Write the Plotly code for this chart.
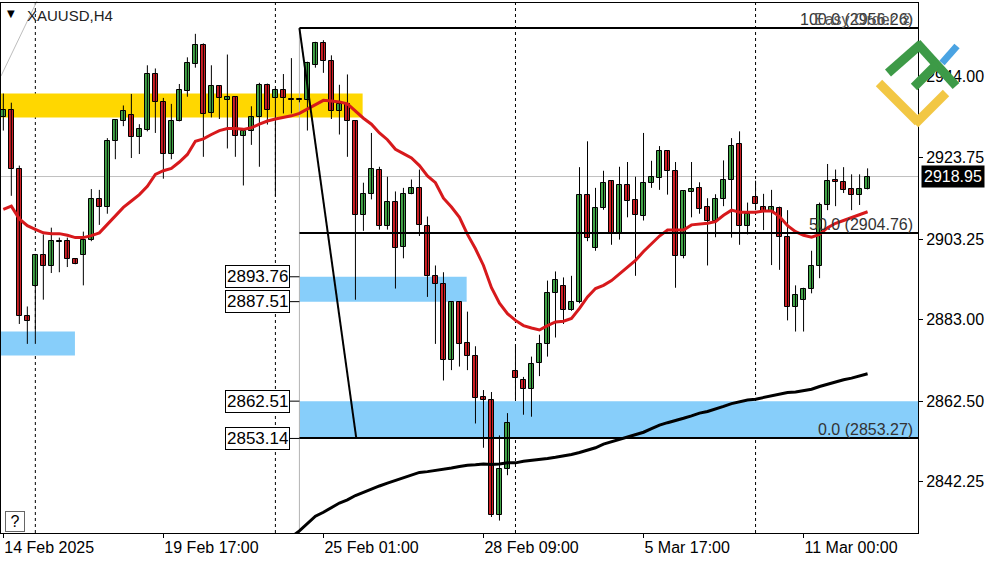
import plotly.graph_objects as go

# ---------------- data ----------------
opens = [2934.0, 2935.7, 2920.8, 2883.9, 2891.5, 2899.2, 2896.4, 2902.5, 2902.7, 2898.2,
         2899.2, 2902.9, 2913.2, 2911.2, 2927.9, 2933.0, 2934.5, 2928.9, 2930.7, 2944.6,
         2937.7, 2924.7, 2932.9, 2940.5, 2947.2, 2952.1, 2935.0, 2941.6, 2938.1, 2939.0,
         2929.2, 2930.5, 2933.9, 2941.9, 2938.7, 2940.7, 2938.4, 2938.4, 2938.3, 2946.9,
         2952.6, 2948.0, 2935.5, 2937.2, 2932.8, 2909.2, 2914.6, 2920.7, 2906.4, 2912.6,
         2901.3, 2914.6, 2916.1, 2906.6, 2893.9, 2891.9, 2872.9, 2887.3, 2877.2, 2873.8,
         2863.5, 2862.7, 2833.8, 2845.4, 2870.0, 2867.9, 2865.6, 2872.0, 2876.9, 2889.7,
         2891.5, 2885.4, 2887.3, 2914.4, 2901.1, 2911.1, 2917.9, 2904.4, 2916.9, 2913.0,
         2909.0, 2917.2, 2918.7, 2925.3, 2920.4, 2899.1, 2915.0, 2916.1, 2911.3, 2907.9,
         2913.2, 2918.1, 2927.0, 2906.6, 2913.7, 2911.4, 2910.1, 2911.0, 2903.8, 2886.1,
         2888.0, 2890.6, 2896.4, 2911.7, 2918.1, 2917.6, 2915.7, 2914.4, 2915.8]
highs = [2939.8, 2937.5, 2921.7, 2886.3, 2899.5, 2904.4, 2906.1, 2903.6, 2903.6, 2898.3,
         2905.1, 2915.8, 2915.6, 2928.6, 2933.4, 2936.8, 2939.7, 2932.1, 2946.9, 2946.1,
         2938.7, 2937.2, 2942.2, 2948.9, 2954.8, 2952.4, 2946.9, 2941.8, 2949.6, 2939.1,
         2930.6, 2936.6, 2942.5, 2942.3, 2941.1, 2944.7, 2948.7, 2938.7, 2947.8, 2952.8,
         2953.2, 2949.4, 2942.0, 2944.6, 2932.9, 2917.4, 2929.9, 2921.4, 2918.9, 2915.2,
         2916.1, 2918.2, 2920.7, 2908.9, 2896.6, 2894.9, 2887.4, 2887.5, 2885.0, 2876.3,
         2865.3, 2864.8, 2853.9, 2859.5, 2876.8, 2868.6, 2873.7, 2879.2, 2892.8, 2895.1,
         2893.6, 2894.0, 2921.3, 2927.8, 2916.1, 2920.4, 2918.0, 2921.4, 2922.6, 2918.9,
         2929.9, 2922.9, 2926.6, 2925.4, 2922.6, 2915.3, 2922.6, 2917.5, 2913.5, 2914.5,
         2923.0, 2928.6, 2930.3, 2912.4, 2917.9, 2914.6, 2915.6, 2911.4, 2910.5, 2891.6,
         2891.0, 2900.3, 2912.4, 2922.1, 2920.7, 2921.3, 2919.5, 2919.5, 2921.0]
lows = [2930.5, 2914.1, 2881.9, 2876.9, 2876.9, 2888.0, 2894.7, 2894.9, 2896.2, 2896.9,
        2891.6, 2902.7, 2906.8, 2909.6, 2923.3, 2931.6, 2923.6, 2924.6, 2930.3, 2929.9,
        2918.4, 2923.3, 2932.8, 2939.0, 2946.3, 2923.9, 2933.8, 2933.4, 2926.0, 2923.9,
        2916.7, 2926.9, 2921.4, 2932.0, 2914.0, 2934.8, 2934.8, 2937.6, 2930.5, 2946.3,
        2945.0, 2933.4, 2929.5, 2923.9, 2888.0, 2905.3, 2913.2, 2905.6, 2905.6, 2890.8,
        2898.4, 2914.5, 2904.0, 2888.7, 2876.9, 2867.7, 2870.3, 2871.2, 2870.3, 2856.9,
        2850.8, 2833.4, 2832.5, 2843.9, 2863.0, 2859.1, 2858.6, 2868.8, 2873.7, 2878.5,
        2881.9, 2885.2, 2887.1, 2902.7, 2900.3, 2910.6, 2901.8, 2903.1, 2908.7, 2894.0,
        2907.9, 2916.1, 2915.6, 2914.4, 2891.0, 2898.4, 2908.7, 2909.6, 2896.6, 2903.7,
        2911.5, 2903.6, 2901.8, 2904.4, 2910.5, 2905.5, 2896.7, 2895.5, 2882.8, 2880.0,
        2880.0, 2889.6, 2893.4, 2910.5, 2911.5, 2914.8, 2910.5, 2911.8, 2915.7]
closes = [2935.7, 2920.8, 2883.9, 2882.6, 2899.2, 2896.4, 2902.7, 2902.7, 2898.2, 2897.0,
          2902.9, 2913.4, 2911.2, 2927.8, 2933.1, 2935.3, 2928.9, 2930.9, 2944.6, 2937.7,
          2924.7, 2932.9, 2940.7, 2947.6, 2952.1, 2934.7, 2941.8, 2938.7, 2939.0, 2929.2,
          2930.5, 2933.8, 2941.9, 2935.6, 2940.7, 2938.6, 2938.2, 2938.1, 2947.4, 2952.4,
          2948.0, 2935.5, 2937.2, 2932.8, 2909.4, 2914.6, 2920.8, 2906.4, 2912.6, 2901.1,
          2914.6, 2916.1, 2906.8, 2894.0, 2891.9, 2872.9, 2887.3, 2876.8, 2873.8, 2863.4,
          2862.7, 2833.8, 2845.4, 2856.9, 2868.3, 2865.5, 2871.8, 2876.8, 2889.7, 2893.0,
          2885.4, 2887.3, 2914.4, 2903.4, 2911.1, 2917.4, 2904.4, 2916.9, 2912.9, 2909.2,
          2917.2, 2918.9, 2925.3, 2920.4, 2899.1, 2915.2, 2915.9, 2910.9, 2907.9, 2913.2,
          2918.1, 2926.7, 2906.6, 2909.6, 2912.0, 2910.1, 2911.2, 2903.7, 2886.1, 2889.3,
          2890.6, 2896.5, 2911.7, 2917.9, 2917.6, 2915.5, 2914.4, 2915.9, 2918.95]

ma_red = [2910.7, 2911.5, 2908.3, 2906.6, 2905.7, 2904.8, 2904.6, 2904.6, 2904.2, 2903.6,
          2903.6, 2904.1, 2904.8, 2907.0, 2909.2, 2911.2, 2912.8, 2914.4, 2916.5, 2919.5,
          2920.4, 2921.0, 2922.6, 2924.5, 2927.8, 2928.4, 2929.5, 2930.5, 2931.0, 2931.0,
          2930.8, 2931.2, 2932.1, 2932.9, 2933.4, 2933.8, 2934.2, 2934.8, 2935.9, 2937.2,
          2938.1, 2937.9, 2937.7, 2937.2, 2935.3, 2933.6, 2932.1, 2929.9, 2928.2, 2925.8,
          2924.7, 2923.6, 2921.7, 2919.1, 2917.4, 2913.5, 2911.3, 2908.7, 2904.4, 2900.8,
          2896.6, 2891.0, 2887.1, 2884.5, 2882.8, 2881.5, 2880.9, 2880.4, 2881.5, 2882.4,
          2882.6, 2883.3, 2885.8, 2888.7, 2890.8, 2891.6, 2892.8, 2894.5, 2896.2, 2897.9,
          2900.1, 2902.0, 2904.0, 2905.5, 2905.5, 2905.5, 2906.8, 2907.0, 2907.2, 2907.6,
          2909.2, 2910.5, 2910.0, 2910.0, 2910.0, 2910.3, 2910.3, 2908.9, 2906.6, 2905.1,
          2904.2, 2903.7, 2904.4, 2906.1, 2907.2, 2907.9, 2908.7, 2909.4, 2910.1]

ma_black_first_bar = 35
ma_black = [2826.5, 2828.4, 2829.9, 2831.7, 2833.6, 2834.6, 2835.7, 2836.9, 2837.7, 2838.8,
            2839.6, 2840.5, 2841.2, 2841.9, 2842.6, 2843.2, 2843.9, 2844.6, 2844.8, 2845.1,
            2845.3, 2845.7, 2846.1, 2846.4, 2846.5, 2846.7, 2846.6, 2846.7, 2847.0, 2847.0,
            2847.4, 2847.6, 2847.8, 2848.1, 2848.4, 2848.7, 2849.1, 2849.6, 2850.2, 2850.8,
            2851.7, 2852.3, 2853.0, 2853.6, 2854.1, 2854.7, 2855.6, 2856.5, 2857.1, 2857.6,
            2858.2, 2858.8, 2859.5, 2859.9, 2860.5, 2861.2, 2861.9, 2862.3, 2862.8, 2863.0,
            2863.4, 2863.8, 2864.2, 2864.7, 2864.8, 2865.1, 2865.5, 2866.2, 2866.8, 2867.4,
            2867.9, 2868.3, 2868.8, 2869.4]

tick_bars = [0, 20, 40, 60, 80, 100]
tick_labels = ["14 Feb 2025", "19 Feb 17:00", "25 Feb 01:00", "28 Feb 09:00",
               "5 Mar 17:00", "11 Mar 00:00"]
price_ticks = [2944.00, 2923.75, 2903.25, 2883.00, 2862.50, 2842.25]
week_separators = [4, 34, 64, 94]
last_price = 2918.95

fib_start_bar = 37
fib_end_bar = 44.1
fib_levels = [100.0, 50.0, 0.0]
fib_prices = [2956.26, 2904.76, 2853.27]

yellow_zone = (2933.8, 2939.8)
yellow_zone_end = 44.9
left_blue_zone = (2874.0, 2880.0)
left_blue_zone_end = 8.95
mid_blue_zone = (2887.51, 2893.76)
mid_blue_zone_end = 57.9
low_blue_zone = (2853.14, 2862.51)
zone_labels = [2893.76, 2887.51, 2862.51, 2853.14]

# ---------------- geometry ----------------
W, H = 1000, 562
ML, MR, MT, MB = 1, 82, 3, 29
PW, PH = W - ML - MR, H - MT - MB
X_RANGE = [-0.29, 114.3]
Y_RANGE = [2829.38, 2962.55]
FONT = "Liberation Sans"

def px(x):
    return (x - ML) / PW

def py(y):
    return 1 - (y - MT) / PH

GREEN = "#41a447"
RED = "#cf1f25"

n = len(opens)
bars = list(range(n))

fig = go.Figure()

# wicks
wx, wy = [], []
for i in bars:
    wx += [i, i, None]
    wy += [lows[i], highs[i], None]
fig.add_trace(go.Scatter(x=wx, y=wy, mode="lines", line=dict(color="black", width=1),
                         hoverinfo="skip", showlegend=False))

# bodies
bases, heights, colors = [], [], []
for o, c in zip(opens, closes):
    lo, hi = min(o, c), max(o, c)
    h = max(hi - lo, 0.25)
    bases.append(lo)
    heights.append(h)
    colors.append(GREEN if c >= o else RED)
fig.add_trace(go.Bar(x=bars, y=heights, base=bases, width=0.68,
                     marker=dict(color=colors, line=dict(color="black", width=1)),
                     hoverinfo="skip", showlegend=False))

# moving averages
fig.add_trace(go.Scatter(x=bars, y=ma_red, mode="lines",
                         line=dict(color="#d7191c", width=3), hoverinfo="skip", showlegend=False))
black_x = list(range(ma_black_first_bar, ma_black_first_bar + len(ma_black)))
fig.add_trace(go.Scatter(x=black_x, y=ma_black, mode="lines",
                         line=dict(color="black", width=3), hoverinfo="skip", showlegend=False))

shapes = []
# zones
shapes.append(dict(type="rect", xref="x", yref="y", x0=-2, x1=yellow_zone_end,
                   y0=yellow_zone[0], y1=yellow_zone[1], fillcolor="#FFD700",
                   line=dict(width=0), layer="below"))
shapes.append(dict(type="rect", xref="x", yref="y", x0=-2, x1=left_blue_zone_end,
                   y0=left_blue_zone[0], y1=left_blue_zone[1], fillcolor="#87CEFA",
                   line=dict(width=0), layer="below"))
shapes.append(dict(type="rect", xref="x", yref="y", x0=fib_start_bar, x1=mid_blue_zone_end,
                   y0=mid_blue_zone[0], y1=mid_blue_zone[1], fillcolor="#87CEFA",
                   line=dict(width=0), layer="below"))
shapes.append(dict(type="rect", xref="x", yref="y", x0=fib_start_bar, x1=130,
                   y0=low_blue_zone[0], y1=low_blue_zone[1], fillcolor="#87CEFA",
                   line=dict(width=0), layer="below"))
# current price line
shapes.append(dict(type="line", xref="paper", yref="y", x0=0, x1=1, y0=last_price, y1=last_price,
                   line=dict(color="#c0c0c0", width=1), layer="below"))
# weekly separators
for s in week_separators:
    shapes.append(dict(type="line", xref="x", yref="paper", x0=s, x1=s, y0=0, y1=1,
                       line=dict(color="black", width=1, dash="3px,3px"), layer="below"))
# vertical gray line at fib start
shapes.append(dict(type="line", xref="x", yref="y", x0=fib_start_bar, x1=fib_start_bar,
                   y0=fib_prices[0], y1=Y_RANGE[0] - 5, line=dict(color="#b4b4b4", width=1),
                   layer="below"))
# fib lines
for p in fib_prices:
    shapes.append(dict(type="line", xref="x", yref="y", x0=fib_start_bar, x1=130, y0=p, y1=p,
                       line=dict(color="black", width=2), layer="above"))
shapes.append(dict(type="line", xref="x", yref="y", x0=fib_start_bar, x1=fib_end_bar,
                   y0=fib_prices[0], y1=fib_prices[-1], line=dict(color="black", width=2),
                   layer="above"))
# label connectors
for p in zone_labels:
    shapes.append(dict(type="line", xref="x", yref="y", x0=35.8, x1=fib_start_bar, y0=p, y1=p,
                       line=dict(color="black", width=1), layer="above"))
# thin gray diagonal at top-left
shapes.append(dict(type="line", xref="paper", yref="paper", x0=px(1), y0=py(76), x1=px(37),
                   y1=py(1), line=dict(color="#bdbdbd", width=1), layer="below"))

# logo (pixel coords -> paper)
def seg(x0, y0, x1, y1, color, w):
    return dict(type="line", xref="paper", yref="paper", x0=px(x0), y0=py(y0), x1=px(x1),
                y1=py(y1), line=dict(color=color, width=w), layer="above")

LG, LY, LB = "#3d9a47", "#f2c744", "#4aa3e2"
shapes += [
    seg(942, 63, 957, 46, LB, 7),
    seg(879, 83, 918, 122, LY, 9),
    seg(915, 124, 946, 93, LY, 9),
    seg(888, 73, 921, 44, LG, 9),
    seg(917, 43, 956, 86, LG, 9),
    seg(914, 87, 936, 65, LG, 9),
]

annotations = []
annotations.append(dict(xref="paper", yref="paper", x=px(5), y=py(14), text="▼",
                        showarrow=False, xanchor="left", yanchor="middle",
                        font=dict(family="DejaVu Sans", size=10, color="black")))
annotations.append(dict(xref="paper", yref="paper", x=px(25), y=py(16), text="XAUUSD,H4",
                        showarrow=False, xanchor="left", yanchor="middle",
                        font=dict(family=FONT, size=15, color="#222")))
annotations.append(dict(xref="paper", yref="paper", x=px(5), y=py(521), text="?",
                        showarrow=False, xanchor="left", yanchor="middle",
                        bordercolor="#666", borderwidth=1, bgcolor="white", borderpad=1,
                        width=16, height=17,
                        font=dict(family=FONT, size=16, color="black")))
for p in zone_labels:
    annotations.append(dict(xref="x", yref="y", x=35.8, y=p, text=f"{p:.2f}",
                            showarrow=False, xanchor="right", yanchor="middle",
                            bordercolor="black", borderwidth=1, bgcolor="white", borderpad=1,
                            font=dict(family=FONT, size=17, color="black")))
for lvl, p in zip(fib_levels, fib_prices):
    annotations.append(dict(xref="paper", yref="y", x=px(915), y=p,
                            text=f"{lvl:.1f} ({p:.2f})", showarrow=False,
                            xanchor="right", yanchor="bottom", yshift=-2,
                            font=dict(family=FONT, size=16, color="#333")))
annotations.append(dict(xref="paper", yref="y", x=px(915), y=fib_prices[0],
                        text="Easy Order ②", showarrow=False, xanchor="right",
                        yanchor="bottom", yshift=-2,
                        font=dict(family=FONT, size=16, color="#555")))
annotations.append(dict(xref="paper", yref="y", x=px(921), y=last_price,
                        text=f"{last_price:.2f}", showarrow=False, xanchor="left",
                        yanchor="middle", bgcolor="black", borderpad=2,
                        font=dict(family=FONT, size=16, color="white")))

fig.update_layout(
    width=W, height=H,
    margin=dict(l=ML, r=MR, t=MT, b=MB, pad=0),
    paper_bgcolor="white", plot_bgcolor="white",
    barmode="overlay", bargap=0, showlegend=False,
    shapes=shapes, annotations=annotations,
    font=dict(family=FONT, size=16, color="black"),
    xaxis=dict(range=X_RANGE, tickvals=tick_bars, ticktext=tick_labels,
               ticks="outside", ticklen=4, tickcolor="black",
               ticklabelposition="outside right",
               showgrid=False, zeroline=False, showline=True, linecolor="black",
               linewidth=1, mirror=True, fixedrange=True,
               tickfont=dict(family=FONT, size=16, color="black")),
    yaxis=dict(range=Y_RANGE, side="right", tickvals=price_ticks,
               ticktext=[f"{v:.2f}" for v in price_ticks],
               ticks="outside", ticklen=4, tickcolor="black",
               showgrid=False, zeroline=False, showline=True, linecolor="black",
               linewidth=1, mirror=True, fixedrange=True,
               tickfont=dict(family=FONT, size=16, color="black")),
)

fig.write_html("out.html", config={"displayModeBar": False},
               post_script="document.body.style.margin='0px';document.body.style.padding='0px';")
